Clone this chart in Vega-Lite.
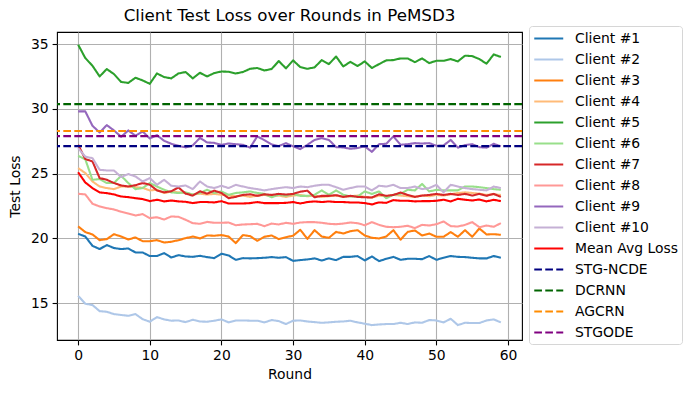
{
"$schema":"https://vega.github.io/schema/vega-lite/v6.json",
"width":465,"height":308,
"autosize":{"type":"none"},
"padding":{"left":57,"top":32,"right":169,"bottom":53},
"title":{"text":"Client Test Loss over Rounds in PeMSD3","font":"DejaVu Sans","fontSize":16.7,"fontWeight":"normal","color":"#000000","anchor":"middle","frame":"group","offset":1},
"config":{
 "view":{"stroke":"#000000","strokeWidth":1.1},
 "axis":{"domain":false,"grid":true,"gridColor":"#b0b0b0","gridWidth":1.1,"tickColor":"#000000","tickWidth":1.1,"tickSize":4.9,"labelFont":"DejaVu Sans","labelFontSize":13.9,"labelColor":"#000000","labelPadding":4,"titleFont":"DejaVu Sans","titleFontSize":13.9,"titleFontWeight":"normal","titleColor":"#000000"}
},
"datasets":{
"clients":[
{"round":0,"series":"Client #1","loss":20.35},{"round":1,"series":"Client #1","loss":20.14},{"round":2,"series":"Client #1","loss":19.42},{"round":3,"series":"Client #1","loss":19.17},{"round":4,"series":"Client #1","loss":19.48},{"round":5,"series":"Client #1","loss":19.25},{"round":6,"series":"Client #1","loss":19.17},{"round":7,"series":"Client #1","loss":19.22},{"round":8,"series":"Client #1","loss":18.91},{"round":9,"series":"Client #1","loss":18.91},{"round":10,"series":"Client #1","loss":18.63},{"round":11,"series":"Client #1","loss":18.63},{"round":12,"series":"Client #1","loss":18.86},{"round":13,"series":"Client #1","loss":18.52},{"round":14,"series":"Client #1","loss":18.70},{"round":15,"series":"Client #1","loss":18.60},{"round":16,"series":"Client #1","loss":18.57},{"round":17,"series":"Client #1","loss":18.65},{"round":18,"series":"Client #1","loss":18.55},{"round":19,"series":"Client #1","loss":18.47},{"round":20,"series":"Client #1","loss":18.81},{"round":21,"series":"Client #1","loss":18.68},{"round":22,"series":"Client #1","loss":18.34},{"round":23,"series":"Client #1","loss":18.47},{"round":24,"series":"Client #1","loss":18.45},{"round":25,"series":"Client #1","loss":18.47},{"round":26,"series":"Client #1","loss":18.50},{"round":27,"series":"Client #1","loss":18.55},{"round":28,"series":"Client #1","loss":18.50},{"round":29,"series":"Client #1","loss":18.55},{"round":30,"series":"Client #1","loss":18.26},{"round":31,"series":"Client #1","loss":18.32},{"round":32,"series":"Client #1","loss":18.37},{"round":33,"series":"Client #1","loss":18.45},{"round":34,"series":"Client #1","loss":18.29},{"round":35,"series":"Client #1","loss":18.45},{"round":36,"series":"Client #1","loss":18.32},{"round":37,"series":"Client #1","loss":18.57},{"round":38,"series":"Client #1","loss":18.57},{"round":39,"series":"Client #1","loss":18.63},{"round":40,"series":"Client #1","loss":18.29},{"round":41,"series":"Client #1","loss":18.60},{"round":42,"series":"Client #1","loss":18.24},{"round":43,"series":"Client #1","loss":18.42},{"round":44,"series":"Client #1","loss":18.57},{"round":45,"series":"Client #1","loss":18.34},{"round":46,"series":"Client #1","loss":18.42},{"round":47,"series":"Client #1","loss":18.42},{"round":48,"series":"Client #1","loss":18.39},{"round":49,"series":"Client #1","loss":18.63},{"round":50,"series":"Client #1","loss":18.34},{"round":51,"series":"Client #1","loss":18.50},{"round":52,"series":"Client #1","loss":18.63},{"round":53,"series":"Client #1","loss":18.57},{"round":54,"series":"Client #1","loss":18.55},{"round":55,"series":"Client #1","loss":18.50},{"round":56,"series":"Client #1","loss":18.45},{"round":57,"series":"Client #1","loss":18.45},{"round":58,"series":"Client #1","loss":18.63},{"round":59,"series":"Client #1","loss":18.50},
{"round":0,"series":"Client #2","loss":15.56},{"round":1,"series":"Client #2","loss":14.95},{"round":2,"series":"Client #2","loss":14.85},{"round":3,"series":"Client #2","loss":14.38},{"round":4,"series":"Client #2","loss":14.33},{"round":5,"series":"Client #2","loss":14.15},{"round":6,"series":"Client #2","loss":14.08},{"round":7,"series":"Client #2","loss":14.02},{"round":8,"series":"Client #2","loss":14.15},{"round":9,"series":"Client #2","loss":13.76},{"round":10,"series":"Client #2","loss":13.56},{"round":11,"series":"Client #2","loss":13.92},{"round":12,"series":"Client #2","loss":13.74},{"round":13,"series":"Client #2","loss":13.64},{"round":14,"series":"Client #2","loss":13.66},{"round":15,"series":"Client #2","loss":13.53},{"round":16,"series":"Client #2","loss":13.71},{"round":17,"series":"Client #2","loss":13.58},{"round":18,"series":"Client #2","loss":13.56},{"round":19,"series":"Client #2","loss":13.64},{"round":20,"series":"Client #2","loss":13.74},{"round":21,"series":"Client #2","loss":13.51},{"round":22,"series":"Client #2","loss":13.66},{"round":23,"series":"Client #2","loss":13.66},{"round":24,"series":"Client #2","loss":13.64},{"round":25,"series":"Client #2","loss":13.64},{"round":26,"series":"Client #2","loss":13.51},{"round":27,"series":"Client #2","loss":13.69},{"round":28,"series":"Client #2","loss":13.61},{"round":29,"series":"Client #2","loss":13.38},{"round":30,"series":"Client #2","loss":13.64},{"round":31,"series":"Client #2","loss":13.66},{"round":32,"series":"Client #2","loss":13.58},{"round":33,"series":"Client #2","loss":13.53},{"round":34,"series":"Client #2","loss":13.48},{"round":35,"series":"Client #2","loss":13.51},{"round":36,"series":"Client #2","loss":13.56},{"round":37,"series":"Client #2","loss":13.58},{"round":38,"series":"Client #2","loss":13.64},{"round":39,"series":"Client #2","loss":13.51},{"round":40,"series":"Client #2","loss":13.41},{"round":41,"series":"Client #2","loss":13.30},{"round":42,"series":"Client #2","loss":13.35},{"round":43,"series":"Client #2","loss":13.38},{"round":44,"series":"Client #2","loss":13.38},{"round":45,"series":"Client #2","loss":13.48},{"round":46,"series":"Client #2","loss":13.38},{"round":47,"series":"Client #2","loss":13.51},{"round":48,"series":"Client #2","loss":13.48},{"round":49,"series":"Client #2","loss":13.69},{"round":50,"series":"Client #2","loss":13.66},{"round":51,"series":"Client #2","loss":13.51},{"round":52,"series":"Client #2","loss":13.79},{"round":53,"series":"Client #2","loss":13.30},{"round":54,"series":"Client #2","loss":13.48},{"round":55,"series":"Client #2","loss":13.46},{"round":56,"series":"Client #2","loss":13.46},{"round":57,"series":"Client #2","loss":13.66},{"round":58,"series":"Client #2","loss":13.74},{"round":59,"series":"Client #2","loss":13.51},
{"round":0,"series":"Client #3","loss":20.92},{"round":1,"series":"Client #3","loss":20.48},{"round":2,"series":"Client #3","loss":20.30},{"round":3,"series":"Client #3","loss":19.86},{"round":4,"series":"Client #3","loss":19.94},{"round":5,"series":"Client #3","loss":20.32},{"round":6,"series":"Client #3","loss":20.14},{"round":7,"series":"Client #3","loss":19.91},{"round":8,"series":"Client #3","loss":20.07},{"round":9,"series":"Client #3","loss":19.78},{"round":10,"series":"Client #3","loss":19.78},{"round":11,"series":"Client #3","loss":19.86},{"round":12,"series":"Client #3","loss":19.68},{"round":13,"series":"Client #3","loss":19.73},{"round":14,"series":"Client #3","loss":19.86},{"round":15,"series":"Client #3","loss":20.01},{"round":16,"series":"Client #3","loss":20.14},{"round":17,"series":"Client #3","loss":19.99},{"round":18,"series":"Client #3","loss":20.22},{"round":19,"series":"Client #3","loss":20.20},{"round":20,"series":"Client #3","loss":20.25},{"round":21,"series":"Client #3","loss":20.14},{"round":22,"series":"Client #3","loss":19.63},{"round":23,"series":"Client #3","loss":20.25},{"round":24,"series":"Client #3","loss":20.17},{"round":25,"series":"Client #3","loss":19.81},{"round":26,"series":"Client #3","loss":20.12},{"round":27,"series":"Client #3","loss":20.22},{"round":28,"series":"Client #3","loss":19.94},{"round":29,"series":"Client #3","loss":20.09},{"round":30,"series":"Client #3","loss":20.20},{"round":31,"series":"Client #3","loss":20.66},{"round":32,"series":"Client #3","loss":19.96},{"round":33,"series":"Client #3","loss":20.63},{"round":34,"series":"Client #3","loss":20.14},{"round":35,"series":"Client #3","loss":20.04},{"round":36,"series":"Client #3","loss":20.50},{"round":37,"series":"Client #3","loss":20.37},{"round":38,"series":"Client #3","loss":20.55},{"round":39,"series":"Client #3","loss":20.63},{"round":40,"series":"Client #3","loss":20.22},{"round":41,"series":"Client #3","loss":20.04},{"round":42,"series":"Client #3","loss":19.99},{"round":43,"series":"Client #3","loss":20.14},{"round":44,"series":"Client #3","loss":20.63},{"round":45,"series":"Client #3","loss":19.89},{"round":46,"series":"Client #3","loss":20.50},{"round":47,"series":"Client #3","loss":20.61},{"round":48,"series":"Client #3","loss":20.22},{"round":49,"series":"Client #3","loss":20.37},{"round":50,"series":"Client #3","loss":20.12},{"round":51,"series":"Client #3","loss":20.12},{"round":52,"series":"Client #3","loss":20.48},{"round":53,"series":"Client #3","loss":20.12},{"round":54,"series":"Client #3","loss":20.63},{"round":55,"series":"Client #3","loss":20.12},{"round":56,"series":"Client #3","loss":20.76},{"round":57,"series":"Client #3","loss":20.30},{"round":58,"series":"Client #3","loss":20.32},{"round":59,"series":"Client #3","loss":20.27},
{"round":0,"series":"Client #4","loss":25.42},{"round":1,"series":"Client #4","loss":25.04},{"round":2,"series":"Client #4","loss":24.39},{"round":3,"series":"Client #4","loss":24.00},{"round":4,"series":"Client #4","loss":23.88},{"round":5,"series":"Client #4","loss":23.80},{"round":6,"series":"Client #4","loss":24.00},{"round":7,"series":"Client #4","loss":24.00},{"round":8,"series":"Client #4","loss":23.95},{"round":9,"series":"Client #4","loss":23.90},{"round":10,"series":"Client #4","loss":23.70},{"round":11,"series":"Client #4","loss":23.75},{"round":12,"series":"Client #4","loss":23.50},{"round":13,"series":"Client #4","loss":23.60},{"round":14,"series":"Client #4","loss":23.55},{"round":15,"series":"Client #4","loss":23.50},{"round":16,"series":"Client #4","loss":23.38},{"round":17,"series":"Client #4","loss":23.45},{"round":18,"series":"Client #4","loss":23.38},{"round":19,"series":"Client #4","loss":23.43},{"round":20,"series":"Client #4","loss":23.36},{"round":21,"series":"Client #4","loss":23.30},{"round":22,"series":"Client #4","loss":23.25},{"round":23,"series":"Client #4","loss":23.30},{"round":24,"series":"Client #4","loss":23.20},{"round":25,"series":"Client #4","loss":23.30},{"round":26,"series":"Client #4","loss":23.35},{"round":27,"series":"Client #4","loss":23.25},{"round":28,"series":"Client #4","loss":23.30},{"round":29,"series":"Client #4","loss":23.20},{"round":30,"series":"Client #4","loss":23.30},{"round":31,"series":"Client #4","loss":23.35},{"round":32,"series":"Client #4","loss":23.25},{"round":33,"series":"Client #4","loss":23.30},{"round":34,"series":"Client #4","loss":23.20},{"round":35,"series":"Client #4","loss":23.25},{"round":36,"series":"Client #4","loss":23.30},{"round":37,"series":"Client #4","loss":23.20},{"round":38,"series":"Client #4","loss":23.25},{"round":39,"series":"Client #4","loss":23.30},{"round":40,"series":"Client #4","loss":23.20},{"round":41,"series":"Client #4","loss":23.15},{"round":42,"series":"Client #4","loss":23.30},{"round":43,"series":"Client #4","loss":23.25},{"round":44,"series":"Client #4","loss":23.35},{"round":45,"series":"Client #4","loss":23.30},{"round":46,"series":"Client #4","loss":23.25},{"round":47,"series":"Client #4","loss":23.20},{"round":48,"series":"Client #4","loss":23.30},{"round":49,"series":"Client #4","loss":23.25},{"round":50,"series":"Client #4","loss":23.35},{"round":51,"series":"Client #4","loss":23.30},{"round":52,"series":"Client #4","loss":23.40},{"round":53,"series":"Client #4","loss":23.50},{"round":54,"series":"Client #4","loss":23.55},{"round":55,"series":"Client #4","loss":23.50},{"round":56,"series":"Client #4","loss":23.45},{"round":57,"series":"Client #4","loss":23.35},{"round":58,"series":"Client #4","loss":23.40},{"round":59,"series":"Client #4","loss":23.35},
{"round":0,"series":"Client #5","loss":34.95},{"round":1,"series":"Client #5","loss":33.92},{"round":2,"series":"Client #5","loss":33.32},{"round":3,"series":"Client #5","loss":32.50},{"round":4,"series":"Client #5","loss":33.07},{"round":5,"series":"Client #5","loss":32.68},{"round":6,"series":"Client #5","loss":32.07},{"round":7,"series":"Client #5","loss":32.00},{"round":8,"series":"Client #5","loss":32.40},{"round":9,"series":"Client #5","loss":32.19},{"round":10,"series":"Client #5","loss":31.93},{"round":11,"series":"Client #5","loss":32.73},{"round":12,"series":"Client #5","loss":32.45},{"round":13,"series":"Client #5","loss":32.35},{"round":14,"series":"Client #5","loss":32.73},{"round":15,"series":"Client #5","loss":32.84},{"round":16,"series":"Client #5","loss":32.35},{"round":17,"series":"Client #5","loss":32.78},{"round":18,"series":"Client #5","loss":32.50},{"round":19,"series":"Client #5","loss":32.76},{"round":20,"series":"Client #5","loss":32.88},{"round":21,"series":"Client #5","loss":32.86},{"round":22,"series":"Client #5","loss":32.73},{"round":23,"series":"Client #5","loss":32.84},{"round":24,"series":"Client #5","loss":33.09},{"round":25,"series":"Client #5","loss":33.15},{"round":26,"series":"Client #5","loss":32.96},{"round":27,"series":"Client #5","loss":33.07},{"round":28,"series":"Client #5","loss":33.69},{"round":29,"series":"Client #5","loss":33.12},{"round":30,"series":"Client #5","loss":33.74},{"round":31,"series":"Client #5","loss":33.22},{"round":32,"series":"Client #5","loss":33.09},{"round":33,"series":"Client #5","loss":33.20},{"round":34,"series":"Client #5","loss":33.76},{"round":35,"series":"Client #5","loss":33.45},{"round":36,"series":"Client #5","loss":34.04},{"round":37,"series":"Client #5","loss":33.27},{"round":38,"series":"Client #5","loss":33.63},{"round":39,"series":"Client #5","loss":33.30},{"round":40,"series":"Client #5","loss":33.66},{"round":41,"series":"Client #5","loss":33.15},{"round":42,"series":"Client #5","loss":33.45},{"round":43,"series":"Client #5","loss":33.74},{"round":44,"series":"Client #5","loss":33.76},{"round":45,"series":"Client #5","loss":33.89},{"round":46,"series":"Client #5","loss":33.89},{"round":47,"series":"Client #5","loss":33.60},{"round":48,"series":"Client #5","loss":33.89},{"round":49,"series":"Client #5","loss":33.53},{"round":50,"series":"Client #5","loss":33.71},{"round":51,"series":"Client #5","loss":33.71},{"round":52,"series":"Client #5","loss":33.84},{"round":53,"series":"Client #5","loss":33.66},{"round":54,"series":"Client #5","loss":34.10},{"round":55,"series":"Client #5","loss":34.07},{"round":56,"series":"Client #5","loss":33.84},{"round":57,"series":"Client #5","loss":33.48},{"round":58,"series":"Client #5","loss":34.20},{"round":59,"series":"Client #5","loss":34.00},
{"round":0,"series":"Client #6","loss":26.37},{"round":1,"series":"Client #6","loss":26.10},{"round":2,"series":"Client #6","loss":24.52},{"round":3,"series":"Client #6","loss":24.57},{"round":4,"series":"Client #6","loss":24.27},{"round":5,"series":"Client #6","loss":24.27},{"round":6,"series":"Client #6","loss":24.83},{"round":7,"series":"Client #6","loss":24.27},{"round":8,"series":"Client #6","loss":23.80},{"round":9,"series":"Client #6","loss":23.88},{"round":10,"series":"Client #6","loss":24.27},{"round":11,"series":"Client #6","loss":24.00},{"round":12,"series":"Client #6","loss":23.75},{"round":13,"series":"Client #6","loss":23.55},{"round":14,"series":"Client #6","loss":23.50},{"round":15,"series":"Client #6","loss":23.55},{"round":16,"series":"Client #6","loss":23.38},{"round":17,"series":"Client #6","loss":23.50},{"round":18,"series":"Client #6","loss":23.75},{"round":19,"series":"Client #6","loss":23.50},{"round":20,"series":"Client #6","loss":23.62},{"round":21,"series":"Client #6","loss":23.36},{"round":22,"series":"Client #6","loss":23.50},{"round":23,"series":"Client #6","loss":23.55},{"round":24,"series":"Client #6","loss":23.62},{"round":25,"series":"Client #6","loss":23.50},{"round":26,"series":"Client #6","loss":23.43},{"round":27,"series":"Client #6","loss":23.17},{"round":28,"series":"Client #6","loss":23.36},{"round":29,"series":"Client #6","loss":23.28},{"round":30,"series":"Client #6","loss":23.43},{"round":31,"series":"Client #6","loss":23.28},{"round":32,"series":"Client #6","loss":23.28},{"round":33,"series":"Client #6","loss":23.36},{"round":34,"series":"Client #6","loss":23.70},{"round":35,"series":"Client #6","loss":23.36},{"round":36,"series":"Client #6","loss":23.70},{"round":37,"series":"Client #6","loss":23.36},{"round":38,"series":"Client #6","loss":23.23},{"round":39,"series":"Client #6","loss":23.23},{"round":40,"series":"Client #6","loss":23.62},{"round":41,"series":"Client #6","loss":23.43},{"round":42,"series":"Client #6","loss":23.62},{"round":43,"series":"Client #6","loss":23.10},{"round":44,"series":"Client #6","loss":23.36},{"round":45,"series":"Client #6","loss":23.43},{"round":46,"series":"Client #6","loss":23.75},{"round":47,"series":"Client #6","loss":23.70},{"round":48,"series":"Client #6","loss":24.20},{"round":49,"series":"Client #6","loss":23.62},{"round":50,"series":"Client #6","loss":23.75},{"round":51,"series":"Client #6","loss":23.70},{"round":52,"series":"Client #6","loss":23.70},{"round":53,"series":"Client #6","loss":23.70},{"round":54,"series":"Client #6","loss":24.00},{"round":55,"series":"Client #6","loss":24.00},{"round":56,"series":"Client #6","loss":23.95},{"round":57,"series":"Client #6","loss":23.88},{"round":58,"series":"Client #6","loss":23.80},{"round":59,"series":"Client #6","loss":23.75},
{"round":0,"series":"Client #7","loss":27.22},{"round":1,"series":"Client #7","loss":26.12},{"round":2,"series":"Client #7","loss":25.94},{"round":3,"series":"Client #7","loss":24.65},{"round":4,"series":"Client #7","loss":24.52},{"round":5,"series":"Client #7","loss":24.27},{"round":6,"series":"Client #7","loss":24.08},{"round":7,"series":"Client #7","loss":24.00},{"round":8,"series":"Client #7","loss":24.10},{"round":9,"series":"Client #7","loss":24.27},{"round":10,"series":"Client #7","loss":24.14},{"round":11,"series":"Client #7","loss":23.70},{"round":12,"series":"Client #7","loss":23.55},{"round":13,"series":"Client #7","loss":23.63},{"round":14,"series":"Client #7","loss":23.93},{"round":15,"series":"Client #7","loss":23.45},{"round":16,"series":"Client #7","loss":23.30},{"round":17,"series":"Client #7","loss":23.63},{"round":18,"series":"Client #7","loss":23.45},{"round":19,"series":"Client #7","loss":23.68},{"round":20,"series":"Client #7","loss":23.50},{"round":21,"series":"Client #7","loss":23.10},{"round":22,"series":"Client #7","loss":23.20},{"round":23,"series":"Client #7","loss":23.35},{"round":24,"series":"Client #7","loss":23.40},{"round":25,"series":"Client #7","loss":23.28},{"round":26,"series":"Client #7","loss":23.40},{"round":27,"series":"Client #7","loss":23.35},{"round":28,"series":"Client #7","loss":23.43},{"round":29,"series":"Client #7","loss":23.38},{"round":30,"series":"Client #7","loss":23.43},{"round":31,"series":"Client #7","loss":23.60},{"round":32,"series":"Client #7","loss":23.68},{"round":33,"series":"Client #7","loss":23.17},{"round":34,"series":"Client #7","loss":23.28},{"round":35,"series":"Client #7","loss":23.28},{"round":36,"series":"Client #7","loss":23.33},{"round":37,"series":"Client #7","loss":23.20},{"round":38,"series":"Client #7","loss":23.28},{"round":39,"series":"Client #7","loss":23.20},{"round":40,"series":"Client #7","loss":23.17},{"round":41,"series":"Client #7","loss":23.15},{"round":42,"series":"Client #7","loss":23.40},{"round":43,"series":"Client #7","loss":23.28},{"round":44,"series":"Client #7","loss":23.35},{"round":45,"series":"Client #7","loss":23.53},{"round":46,"series":"Client #7","loss":23.35},{"round":47,"series":"Client #7","loss":23.20},{"round":48,"series":"Client #7","loss":23.30},{"round":49,"series":"Client #7","loss":23.35},{"round":50,"series":"Client #7","loss":23.43},{"round":51,"series":"Client #7","loss":23.35},{"round":52,"series":"Client #7","loss":23.43},{"round":53,"series":"Client #7","loss":23.35},{"round":54,"series":"Client #7","loss":23.43},{"round":55,"series":"Client #7","loss":23.30},{"round":56,"series":"Client #7","loss":23.43},{"round":57,"series":"Client #7","loss":23.28},{"round":58,"series":"Client #7","loss":23.43},{"round":59,"series":"Client #7","loss":23.20},
{"round":0,"series":"Client #8","loss":23.44},{"round":1,"series":"Client #8","loss":23.39},{"round":2,"series":"Client #8","loss":22.67},{"round":3,"series":"Client #8","loss":22.46},{"round":4,"series":"Client #8","loss":22.33},{"round":5,"series":"Client #8","loss":22.23},{"round":6,"series":"Client #8","loss":22.05},{"round":7,"series":"Client #8","loss":21.92},{"round":8,"series":"Client #8","loss":21.76},{"round":9,"series":"Client #8","loss":21.87},{"round":10,"series":"Client #8","loss":21.56},{"round":11,"series":"Client #8","loss":21.63},{"round":12,"series":"Client #8","loss":21.45},{"round":13,"series":"Client #8","loss":21.69},{"round":14,"series":"Client #8","loss":21.66},{"round":15,"series":"Client #8","loss":21.43},{"round":16,"series":"Client #8","loss":21.17},{"round":17,"series":"Client #8","loss":21.12},{"round":18,"series":"Client #8","loss":21.27},{"round":19,"series":"Client #8","loss":21.20},{"round":20,"series":"Client #8","loss":21.20},{"round":21,"series":"Client #8","loss":21.22},{"round":22,"series":"Client #8","loss":21.01},{"round":23,"series":"Client #8","loss":21.07},{"round":24,"series":"Client #8","loss":21.09},{"round":25,"series":"Client #8","loss":21.12},{"round":26,"series":"Client #8","loss":20.94},{"round":27,"series":"Client #8","loss":21.14},{"round":28,"series":"Client #8","loss":21.07},{"round":29,"series":"Client #8","loss":21.20},{"round":30,"series":"Client #8","loss":21.12},{"round":31,"series":"Client #8","loss":21.22},{"round":32,"series":"Client #8","loss":21.25},{"round":33,"series":"Client #8","loss":21.25},{"round":34,"series":"Client #8","loss":21.20},{"round":35,"series":"Client #8","loss":21.12},{"round":36,"series":"Client #8","loss":21.09},{"round":37,"series":"Client #8","loss":21.14},{"round":38,"series":"Client #8","loss":21.22},{"round":39,"series":"Client #8","loss":21.17},{"round":40,"series":"Client #8","loss":21.01},{"round":41,"series":"Client #8","loss":21.25},{"round":42,"series":"Client #8","loss":21.04},{"round":43,"series":"Client #8","loss":20.89},{"round":44,"series":"Client #8","loss":20.86},{"round":45,"series":"Client #8","loss":20.89},{"round":46,"series":"Client #8","loss":20.97},{"round":47,"series":"Client #8","loss":20.79},{"round":48,"series":"Client #8","loss":21.04},{"round":49,"series":"Client #8","loss":20.99},{"round":50,"series":"Client #8","loss":21.09},{"round":51,"series":"Client #8","loss":21.30},{"round":52,"series":"Client #8","loss":20.94},{"round":53,"series":"Client #8","loss":20.91},{"round":54,"series":"Client #8","loss":21.04},{"round":55,"series":"Client #8","loss":21.25},{"round":56,"series":"Client #8","loss":20.86},{"round":57,"series":"Client #8","loss":20.99},{"round":58,"series":"Client #8","loss":20.89},{"round":59,"series":"Client #8","loss":21.17},
{"round":0,"series":"Client #9","loss":29.80},{"round":1,"series":"Client #9","loss":29.80},{"round":2,"series":"Client #9","loss":28.69},{"round":3,"series":"Client #9","loss":28.17},{"round":4,"series":"Client #9","loss":28.74},{"round":5,"series":"Client #9","loss":28.33},{"round":6,"series":"Client #9","loss":27.84},{"round":7,"series":"Client #9","loss":28.33},{"round":8,"series":"Client #9","loss":27.92},{"round":9,"series":"Client #9","loss":28.25},{"round":10,"series":"Client #9","loss":27.71},{"round":11,"series":"Client #9","loss":27.97},{"round":12,"series":"Client #9","loss":27.53},{"round":13,"series":"Client #9","loss":27.30},{"round":14,"series":"Client #9","loss":27.15},{"round":15,"series":"Client #9","loss":27.02},{"round":16,"series":"Client #9","loss":27.17},{"round":17,"series":"Client #9","loss":27.76},{"round":18,"series":"Client #9","loss":27.40},{"round":19,"series":"Client #9","loss":27.37},{"round":20,"series":"Client #9","loss":27.22},{"round":21,"series":"Client #9","loss":27.32},{"round":22,"series":"Client #9","loss":27.27},{"round":23,"series":"Client #9","loss":27.22},{"round":24,"series":"Client #9","loss":27.00},{"round":25,"series":"Client #9","loss":27.87},{"round":26,"series":"Client #9","loss":27.58},{"round":27,"series":"Client #9","loss":27.25},{"round":28,"series":"Client #9","loss":27.12},{"round":29,"series":"Client #9","loss":27.35},{"round":30,"series":"Client #9","loss":27.10},{"round":31,"series":"Client #9","loss":26.89},{"round":32,"series":"Client #9","loss":27.22},{"round":33,"series":"Client #9","loss":27.60},{"round":34,"series":"Client #9","loss":27.73},{"round":35,"series":"Client #9","loss":27.60},{"round":36,"series":"Client #9","loss":27.04},{"round":37,"series":"Client #9","loss":27.02},{"round":38,"series":"Client #9","loss":26.91},{"round":39,"series":"Client #9","loss":26.97},{"round":40,"series":"Client #9","loss":27.10},{"round":41,"series":"Client #9","loss":26.68},{"round":42,"series":"Client #9","loss":27.27},{"round":43,"series":"Client #9","loss":27.30},{"round":44,"series":"Client #9","loss":27.87},{"round":45,"series":"Client #9","loss":27.22},{"round":46,"series":"Client #9","loss":27.27},{"round":47,"series":"Client #9","loss":27.35},{"round":48,"series":"Client #9","loss":27.32},{"round":49,"series":"Client #9","loss":27.35},{"round":50,"series":"Client #9","loss":27.15},{"round":51,"series":"Client #9","loss":27.17},{"round":52,"series":"Client #9","loss":27.60},{"round":53,"series":"Client #9","loss":27.00},{"round":54,"series":"Client #9","loss":27.20},{"round":55,"series":"Client #9","loss":27.27},{"round":56,"series":"Client #9","loss":27.04},{"round":57,"series":"Client #9","loss":27.00},{"round":58,"series":"Client #9","loss":27.30},{"round":59,"series":"Client #9","loss":27.10},
{"round":0,"series":"Client #10","loss":26.97},{"round":1,"series":"Client #10","loss":26.30},{"round":2,"series":"Client #10","loss":26.19},{"round":3,"series":"Client #10","loss":25.29},{"round":4,"series":"Client #10","loss":25.24},{"round":5,"series":"Client #10","loss":25.24},{"round":6,"series":"Client #10","loss":24.73},{"round":7,"series":"Client #10","loss":24.96},{"round":8,"series":"Client #10","loss":24.78},{"round":9,"series":"Client #10","loss":24.39},{"round":10,"series":"Client #10","loss":24.65},{"round":11,"series":"Client #10","loss":24.13},{"round":12,"series":"Client #10","loss":24.52},{"round":13,"series":"Client #10","loss":24.06},{"round":14,"series":"Client #10","loss":24.00},{"round":15,"series":"Client #10","loss":24.08},{"round":16,"series":"Client #10","loss":23.80},{"round":17,"series":"Client #10","loss":24.39},{"round":18,"series":"Client #10","loss":24.00},{"round":19,"series":"Client #10","loss":23.88},{"round":20,"series":"Client #10","loss":24.06},{"round":21,"series":"Client #10","loss":23.88},{"round":22,"series":"Client #10","loss":24.13},{"round":23,"series":"Client #10","loss":24.00},{"round":24,"series":"Client #10","loss":23.88},{"round":25,"series":"Client #10","loss":23.80},{"round":26,"series":"Client #10","loss":23.70},{"round":27,"series":"Client #10","loss":23.80},{"round":28,"series":"Client #10","loss":23.88},{"round":29,"series":"Client #10","loss":23.95},{"round":30,"series":"Client #10","loss":23.88},{"round":31,"series":"Client #10","loss":24.00},{"round":32,"series":"Client #10","loss":23.95},{"round":33,"series":"Client #10","loss":24.06},{"round":34,"series":"Client #10","loss":24.13},{"round":35,"series":"Client #10","loss":24.13},{"round":36,"series":"Client #10","loss":23.95},{"round":37,"series":"Client #10","loss":23.75},{"round":38,"series":"Client #10","loss":23.88},{"round":39,"series":"Client #10","loss":24.00},{"round":40,"series":"Client #10","loss":24.00},{"round":41,"series":"Client #10","loss":23.70},{"round":42,"series":"Client #10","loss":24.06},{"round":43,"series":"Client #10","loss":24.00},{"round":44,"series":"Client #10","loss":24.13},{"round":45,"series":"Client #10","loss":23.88},{"round":46,"series":"Client #10","loss":23.88},{"round":47,"series":"Client #10","loss":24.00},{"round":48,"series":"Client #10","loss":23.80},{"round":49,"series":"Client #10","loss":23.88},{"round":50,"series":"Client #10","loss":24.13},{"round":51,"series":"Client #10","loss":23.55},{"round":52,"series":"Client #10","loss":24.13},{"round":53,"series":"Client #10","loss":24.00},{"round":54,"series":"Client #10","loss":23.88},{"round":55,"series":"Client #10","loss":23.80},{"round":56,"series":"Client #10","loss":23.75},{"round":57,"series":"Client #10","loss":23.70},{"round":58,"series":"Client #10","loss":24.00},{"round":59,"series":"Client #10","loss":23.88}
],
"mean":[
{"round":0,"series":"Mean Avg Loss","loss":25.10},{"round":1,"series":"Mean Avg Loss","loss":24.31},{"round":2,"series":"Mean Avg Loss","loss":23.88},{"round":3,"series":"Mean Avg Loss","loss":23.54},{"round":4,"series":"Mean Avg Loss","loss":23.49},{"round":5,"series":"Mean Avg Loss","loss":23.39},{"round":6,"series":"Mean Avg Loss","loss":23.23},{"round":7,"series":"Mean Avg Loss","loss":23.18},{"round":8,"series":"Mean Avg Loss","loss":23.10},{"round":9,"series":"Mean Avg Loss","loss":23.03},{"round":10,"series":"Mean Avg Loss","loss":22.87},{"round":11,"series":"Mean Avg Loss","loss":22.98},{"round":12,"series":"Mean Avg Loss","loss":22.85},{"round":13,"series":"Mean Avg Loss","loss":22.92},{"round":14,"series":"Mean Avg Loss","loss":22.85},{"round":15,"series":"Mean Avg Loss","loss":22.82},{"round":16,"series":"Mean Avg Loss","loss":22.72},{"round":17,"series":"Mean Avg Loss","loss":22.80},{"round":18,"series":"Mean Avg Loss","loss":22.80},{"round":19,"series":"Mean Avg Loss","loss":22.77},{"round":20,"series":"Mean Avg Loss","loss":22.87},{"round":21,"series":"Mean Avg Loss","loss":22.69},{"round":22,"series":"Mean Avg Loss","loss":22.69},{"round":23,"series":"Mean Avg Loss","loss":22.69},{"round":24,"series":"Mean Avg Loss","loss":22.72},{"round":25,"series":"Mean Avg Loss","loss":22.80},{"round":26,"series":"Mean Avg Loss","loss":22.72},{"round":27,"series":"Mean Avg Loss","loss":22.72},{"round":28,"series":"Mean Avg Loss","loss":22.72},{"round":29,"series":"Mean Avg Loss","loss":22.74},{"round":30,"series":"Mean Avg Loss","loss":22.80},{"round":31,"series":"Mean Avg Loss","loss":22.69},{"round":32,"series":"Mean Avg Loss","loss":22.80},{"round":33,"series":"Mean Avg Loss","loss":22.85},{"round":34,"series":"Mean Avg Loss","loss":22.80},{"round":35,"series":"Mean Avg Loss","loss":22.85},{"round":36,"series":"Mean Avg Loss","loss":22.80},{"round":37,"series":"Mean Avg Loss","loss":22.80},{"round":38,"series":"Mean Avg Loss","loss":22.77},{"round":39,"series":"Mean Avg Loss","loss":22.77},{"round":40,"series":"Mean Avg Loss","loss":22.72},{"round":41,"series":"Mean Avg Loss","loss":22.62},{"round":42,"series":"Mean Avg Loss","loss":22.77},{"round":43,"series":"Mean Avg Loss","loss":22.74},{"round":44,"series":"Mean Avg Loss","loss":22.95},{"round":45,"series":"Mean Avg Loss","loss":22.90},{"round":46,"series":"Mean Avg Loss","loss":22.90},{"round":47,"series":"Mean Avg Loss","loss":22.85},{"round":48,"series":"Mean Avg Loss","loss":22.87},{"round":49,"series":"Mean Avg Loss","loss":22.87},{"round":50,"series":"Mean Avg Loss","loss":22.90},{"round":51,"series":"Mean Avg Loss","loss":22.98},{"round":52,"series":"Mean Avg Loss","loss":22.85},{"round":53,"series":"Mean Avg Loss","loss":23.05},{"round":54,"series":"Mean Avg Loss","loss":22.98},{"round":55,"series":"Mean Avg Loss","loss":22.92},{"round":56,"series":"Mean Avg Loss","loss":23.00},{"round":57,"series":"Mean Avg Loss","loss":22.85},{"round":58,"series":"Mean Avg Loss","loss":22.98},{"round":59,"series":"Mean Avg Loss","loss":22.87}
],
"baselines":[
{"series":"STG-NCDE","loss":27.12},{"series":"DCRNN","loss":30.36},{"series":"AGCRN","loss":28.28},{"series":"STGODE","loss":27.89}
]
},
"layer":[
{"data":{"name":"clients"},
 "mark":{"type":"line","clip":true,"strokeJoin":"round"},
 "encoding":{
  "x":{"field":"round","type":"quantitative","scale":{"domain":[-2.95,61.95],"nice":false,"zero":false},"axis":{"values":[0,10,20,30,40,50,60],"title":"Round","titlePadding":5}},
  "y":{"field":"loss","type":"quantitative","scale":{"domain":[12.15,35.93],"nice":false,"zero":false},"axis":{"values":[15,20,25,30,35],"title":"Test Loss","titlePadding":8}},
  "color":{"field":"series","type":"nominal","scale":{"domain":["Client #1","Client #2","Client #3","Client #4","Client #5","Client #6","Client #7","Client #8","Client #9","Client #10","Mean Avg Loss","STG-NCDE","DCRNN","AGCRN","STGODE"],"range":["#1f77b4","#aec7e8","#ff7f0e","#ffbb78","#2ca02c","#98df8a","#d62728","#ff9896","#9467bd","#c5b0d5","#ff0000","#000080","#006400","#ff8c00","#800080"]},
   "legend":{"title":null,"orient":"none","legendX":472,"legendY":-6,"symbolType":"M-1,0H3","symbolSize":210,"labelFont":"DejaVu Sans","labelFontSize":13.9,"labelColor":"#000000","labelOffset":25,"rowPadding":5,"padding":4,"strokeColor":"#d6d6d6","cornerRadius":3,"fillColor":"#ffffff","labelLimit":300}},
  "strokeDash":{"field":"series","type":"nominal","scale":{"domain":["Client #1","Client #2","Client #3","Client #4","Client #5","Client #6","Client #7","Client #8","Client #9","Client #10","Mean Avg Loss","STG-NCDE","DCRNN","AGCRN","STGODE"],"range":[[1,0],[1,0],[1,0],[1,0],[1,0],[1,0],[1,0],[1,0],[1,0],[1,0],[1,0],[7.7,3.3],[7.7,3.3],[7.7,3.3],[7.7,3.3]]}},
  "strokeWidth":{"field":"series","type":"nominal","scale":{"domain":["Client #1","Client #2","Client #3","Client #4","Client #5","Client #6","Client #7","Client #8","Client #9","Client #10","Mean Avg Loss","STG-NCDE","DCRNN","AGCRN","STGODE"],"range":[2.08,2.08,2.08,2.08,2.08,2.08,2.08,2.08,2.08,2.08,4.17,2.08,2.08,2.08,2.08]}}
 }},
{"data":{"name":"mean"},
 "mark":{"type":"line","clip":true,"strokeJoin":"round"},
 "encoding":{
  "x":{"field":"round","type":"quantitative"},
  "y":{"field":"loss","type":"quantitative"},
  "color":{"field":"series","type":"nominal"},
  "strokeDash":{"field":"series","type":"nominal"},
  "strokeWidth":{"field":"series","type":"nominal"}
 }},
{"data":{"name":"baselines"},
 "mark":{"type":"rule","clip":true},
 "encoding":{
  "y":{"field":"loss","type":"quantitative"},
  "color":{"field":"series","type":"nominal"},
  "strokeDash":{"field":"series","type":"nominal"},
  "strokeWidth":{"field":"series","type":"nominal"}
 }}
]
}
